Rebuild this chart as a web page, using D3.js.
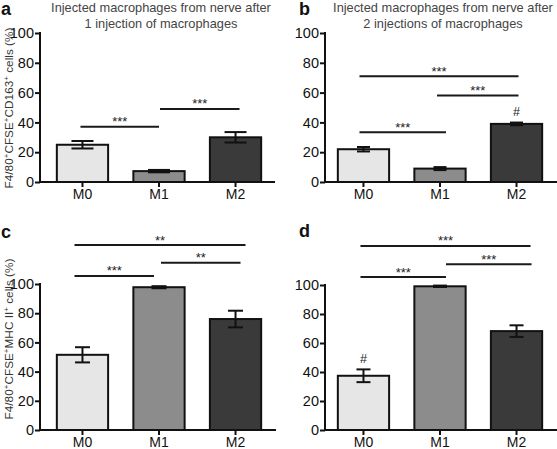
<!DOCTYPE html>
<html><head><meta charset="utf-8">
<script src="https://cdn.jsdelivr.net/npm/d3@7"></script>
<style>body{margin:0;background:#fff}svg{display:block;font-family:"Liberation Sans",Arial,sans-serif}</style>
</head><body>
<svg id="chart" width="557" height="449"></svg>
<script>
// ---------- data ----------
const categories = ["M0", "M1", "M2"];
const yTicks = [0, 20, 40, 60, 80, 100];

const valuesA = [25, 7.3, 30];
const errorsA = [2.5, 0.8, 3.5];
const valuesB = [22, 9, 39];
const errorsB = [1.5, 1, 0.9];
const valuesC = [51.5, 97.8, 76];
const errorsC = [5.2, 0.7, 5.7];
const valuesD = [37.4, 99.1, 68.2];
const errorsD = [4.4, 0.5, 4];

const titleA = ["Injected macrophages from nerve after", "1 injection of macrophages"];
const titleB = ["Injected macrophages from nerve after", "2 injections of macrophages"];
const yLabelTop = [["F4/80", 0], ["+", 1], ["CFSE", 0], ["+", 1], ["CD163", 0], ["+", 1], [" cells (%)", 0]];
const yLabelBottom = [["F4/80", 0], ["+", 1], ["CFSE", 0], ["+", 1], ["MHC II", 0], ["+", 1], [" cells (%)", 0]];

// significance brackets: [from, to, level (y units), label]
const sigA = [["M0", "M1", 37, "***"], ["M1", "M2", 49, "***"]];
const sigB = [["M0", "M2", 71, "***"], ["M1", "M2", 58, "***"], ["M0", "M1", 33.4, "***"]];
const sigC = [["M0", "M2", 126.7, "**"], ["M1", "M2", 114.6, "**"], ["M0", "M1", 105.5, "***"]];
const sigD = [["M0", "M2", 126.9, "***"], ["M1", "M2", 114.3, "***"], ["M0", "M1", 105.5, "***"]];
// hash marks: category
const hashB = ["M2"];
const hashD = ["M0"];

const barColors = ["#e6e6e6", "#8c8c8c", "#3a3a3a"];

// ---------- layout ----------
const panels = [
  {values: valuesA, errors: errorsA, sig: sigA, hash: [], title: titleA, ylab: yLabelTop, letter: "a",
   x0: 40, xEnd: 275, yTop: 33, yBot: 182, band: [40, 278], cap: 22, letterX: 1, letterY: 15,
   titleX: 161, ylabX: 13, ylabY: 108, sigPad: [[-2, 0], [1, 4]]},
  {values: valuesB, errors: errorsB, sig: sigB, hash: hashB, title: titleB, ylab: null, letter: "b",
   x0: 325, xEnd: 557, yTop: 33, yBot: 182, band: [321, 559], cap: 13, letterX: 299, letterY: 15,
   titleX: 443, sigPad: [[-4, 2], [-3, 2], [-4, 6]]},
  {values: valuesC, errors: errorsC, sig: sigC, hash: [], title: null, ylab: yLabelBottom, letter: "c",
   x0: 40, xEnd: 276, yTop: 284, yBot: 430, band: [40, 278], cap: 15, letterX: 1, letterY: 238,
   ylabX: 13, ylabY: 339, sigPad: [[-8, 10], [2, 5], [-8, -5]]},
  {values: valuesD, errors: errorsD, sig: sigD, hash: hashD, title: null, ylab: null, letter: "d",
   x0: 325, xEnd: 557, yTop: 285, yBot: 430, band: [321, 559], cap: 14, letterX: 299, letterY: 237,
   sigPad: [[-3, 14], [6, 15], [-3, 6]]}
];

const svg = d3.select("#chart");

panels.forEach(p => {
  const g = svg.append("g");
  const x = d3.scaleBand().domain(categories).range(p.band).paddingInner(0.33).paddingOuter(0.22);
  const y = d3.scaleLinear().domain([0, 100]).range([p.yBot, p.yTop]);
  const cx = c => x(c) + x.bandwidth() / 2;

  // bars
  g.selectAll("rect.bar").data(p.values).join("rect")
    .attr("x", (d, i) => x(categories[i]))
    .attr("y", d => y(d))
    .attr("width", x.bandwidth())
    .attr("height", d => y(0) - y(d))
    .attr("fill", (d, i) => barColors[i])
    .attr("stroke", "#111").attr("stroke-width", 2);

  // error bars
  const eg = g.append("g").attr("stroke", "#111").attr("stroke-width", 2);
  p.values.forEach((v, i) => {
    const c = cx(categories[i]), e = p.errors[i];
    eg.append("line").attr("x1", c).attr("x2", c).attr("y1", y(v + e)).attr("y2", y(v - e));
    eg.append("line").attr("x1", c - p.cap / 2).attr("x2", c + p.cap / 2).attr("y1", y(v + e)).attr("y2", y(v + e));
    eg.append("line").attr("x1", c - p.cap / 2).attr("x2", c + p.cap / 2).attr("y1", y(v - e)).attr("y2", y(v - e));
  });

  // y axis
  const ya = d3.axisLeft(y).tickValues(yTicks).tickSize(5).tickPadding(1).tickSizeOuter(0);
  const yg = g.append("g").attr("transform", `translate(${p.x0},0)`).call(ya);
  yg.select(".domain").attr("stroke", "#111").attr("stroke-width", 2).attr("d", `M0,${p.yTop - 1}V${p.yBot + 1}`);
  yg.selectAll(".tick line").attr("stroke", "#111").attr("stroke-width", 2);
  yg.selectAll(".tick text").attr("font-size", 14.5).attr("fill", "#111").attr("font-family", "Liberation Sans, Arial, sans-serif");

  // x axis
  const xa = d3.axisBottom(x).tickSize(5).tickPadding(2.5).tickSizeOuter(0);
  const xg = g.append("g").attr("transform", `translate(0,${p.yBot})`).call(xa);
  xg.select(".domain").attr("stroke", "#111").attr("stroke-width", 2).attr("d", `M${p.x0 - 1},0H${p.xEnd}`);
  xg.selectAll(".tick line").attr("stroke", "#111").attr("stroke-width", 2);
  xg.selectAll(".tick text").attr("font-size", 14).attr("fill", "#111").attr("font-family", "Liberation Sans, Arial, sans-serif");

  // significance brackets
  p.sig.forEach((s, k) => {
    const pad = p.sigPad[k];
    const x1 = cx(s[0]) + pad[0], x2 = cx(s[1]) + pad[1], yy = y(s[2]);
    g.append("line").attr("x1", x1).attr("x2", x2).attr("y1", yy).attr("y2", yy)
      .attr("stroke", "#1a1a1a").attr("stroke-width", 2);
    g.append("text").attr("x", (x1 + x2) / 2).attr("y", yy - 0.5).attr("text-anchor", "middle")
      .attr("font-size", 13).attr("fill", "#222").text(s[3]);
  });

  // hash marks
  p.hash.forEach(c => {
    const i = categories.indexOf(c);
    g.append("text").attr("x", cx(c)).attr("y", y(p.values[i] + p.errors[i]) - 6.5)
      .attr("text-anchor", "middle").attr("font-size", 12.5).attr("fill", "#222").text("#");
  });

  // panel letter
  g.append("text").attr("x", p.letterX).attr("y", p.letterY).attr("font-size", 18)
    .attr("font-weight", "bold").attr("fill", "#111").text(p.letter);

  // title
  if (p.title) {
    p.title.forEach((t, k) => {
      g.append("text").attr("x", p.titleX).attr("y", 12 + k * 16).attr("text-anchor", "middle")
        .attr("font-size", 12.8).attr("fill", "#444").text(t);
    });
  }

  // y label
  if (p.ylab) {
    const t = g.append("text").attr("transform", `translate(${p.ylabX},${p.ylabY}) rotate(-90)`)
      .attr("text-anchor", "middle").attr("font-size", 11.8).attr("fill", "#333");
    let sup = 0;
    p.ylab.forEach(([s, isSup]) => {
      const dy = isSup && !sup ? -4 : (!isSup && sup ? 4 : 0);
      t.append("tspan").attr("dy", dy).attr("font-size", isSup ? 8 : 11.8).text(s);
      sup = isSup;
    });
  }
});
</script>
</body></html>
